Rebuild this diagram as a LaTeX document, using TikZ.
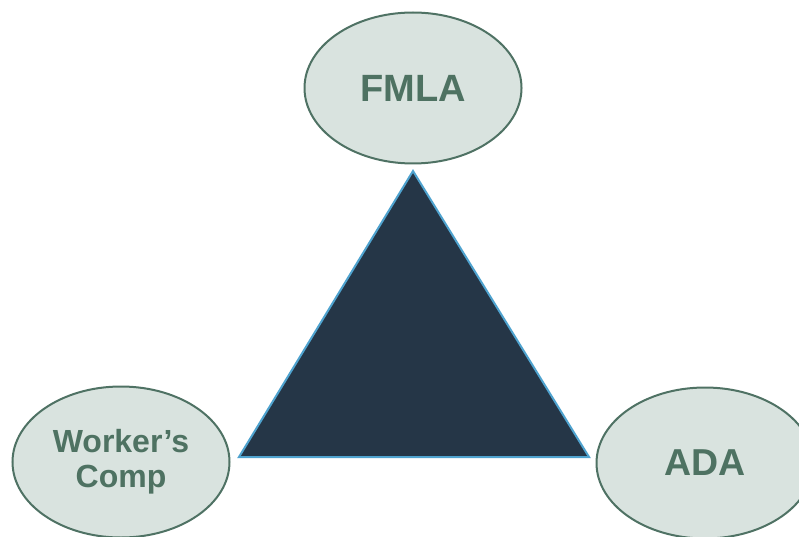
\documentclass[tikz,border=0pt]{standalone}
\usepackage{fontspec}
\setmainfont{Liberation Sans}
\usetikzlibrary{shapes.geometric}

\definecolor{ovalfill}{HTML}{D9E3DF}
\definecolor{ovalline}{HTML}{4F7264}
\definecolor{ovaltext}{HTML}{4E7262}
\definecolor{trifill}{HTML}{253647}
\definecolor{triline}{HTML}{4FA3CF}

\begin{document}
\begin{tikzpicture}[
  x=1pt, y=-1pt,
  law oval/.style = {ellipse, draw=ovalline, fill=ovalfill, line width=2pt,
                     minimum width=217pt, minimum height=151pt, inner sep=0pt,
                     text=ovaltext, font=\bfseries, align=center},
  center tri/.style = {draw=triline, fill=trifill, line width=2pt, line join=miter},
]

% ── Canvas ────────────────────────────────────────────────────────────────
\useasboundingbox (0,0) rectangle (799,537);

% ── Triangle in the middle ────────────────────────────────────────────────
\coordinate (apex)  at (413,171);
\coordinate (left)  at (239,457);
\coordinate (right) at (589,457);
\draw[center tri] (apex) -- (left) -- (right) -- cycle;

% ── The three laws ────────────────────────────────────────────────────────
\node[law oval, font=\bfseries\fontsize{38}{45}\selectfont] (fmla) at (413,88)
  {FMLA};
\node[law oval, font=\bfseries\fontsize{32}{35}\selectfont] (comp) at (121,462)
  {Worker’s\\Comp};
\node[law oval, font=\bfseries\fontsize{37.5}{45}\selectfont] (ada)  at (705,463)
  {ADA};

\end{tikzpicture}
\end{document}
